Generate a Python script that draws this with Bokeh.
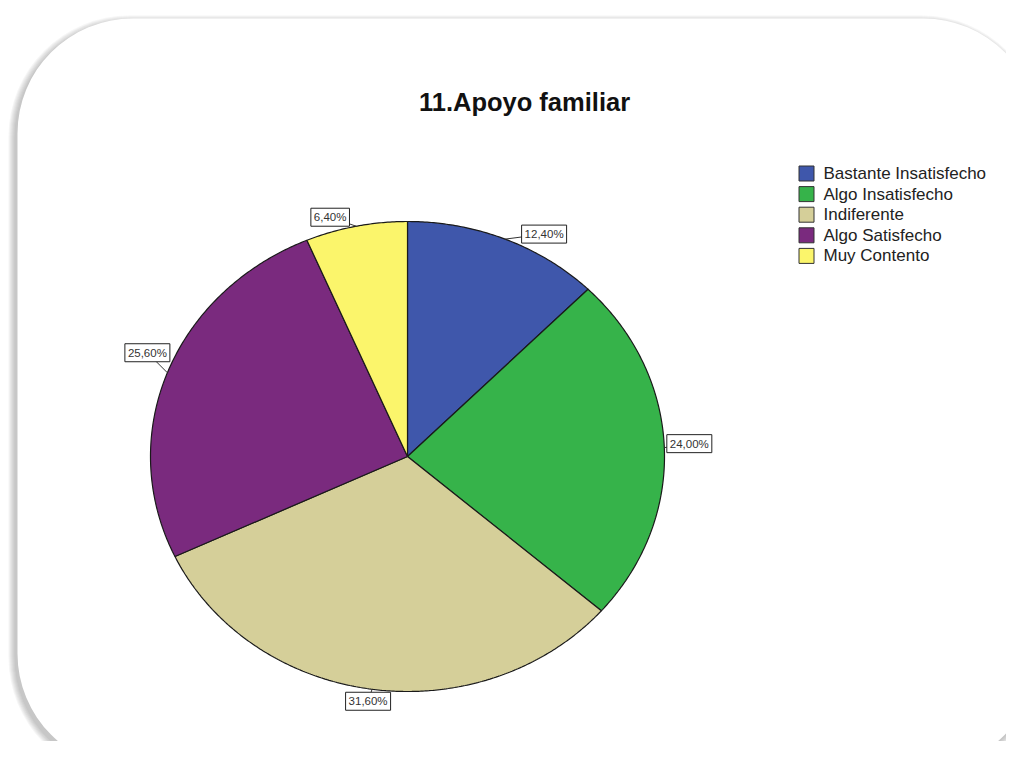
import numpy as np
from bokeh.plotting import figure
from bokeh.models import Range1d, BoxAnnotation
from bokeh.core.properties import value
from bokeh.embed import file_html
from bokeh.resources import INLINE

# ---- data ----
title = "11.Apoyo familiar"
categories = ["Bastante Insatisfecho", "Algo Insatisfecho", "Indiferente",
              "Algo Satisfecho", "Muy Contento"]
percents = [12.4, 24.0, 31.6, 25.6, 6.4]
colors = ["#3F57AB", "#36B34A", "#D5CF99", "#7A2A7E", "#FBF56B"]

# ---- layout (pixels) ----
W, H = 1006, 741
cx, cy = 407, 456
rx, ry = 257, 235
label_dx = [39, 25, -4, -20, -26]
label_dy = [-5, -4, 12, -20, -9]
leg_x, leg_y0, leg_step, leg_box = 806, 173, 20.6, 15
FONT = value("Liberation Sans")

p = figure(width=W, height=H, output_backend="svg", toolbar_location=None,
           x_range=Range1d(0, W), y_range=Range1d(H, 0), min_border=0)
p.axis.visible = False
p.grid.visible = False
p.outline_line_color = None
p.background_fill_color = "white"
p.border_fill_color = "white"

# frame with soft shadow (offset to the left / down)
for k in range(7):
    p.add_layout(BoxAnnotation(left=14 - k, right=1036 + k, top=21 - k, bottom=772 + k,
                               border_radius=115 + k, fill_color="#555555", fill_alpha=0.055,
                               line_color=None, level="underlay"))
p.add_layout(BoxAnnotation(left=17, right=1038, top=18, bottom=768, border_radius=115,
                           fill_color="white", fill_alpha=1.0, line_color=None,
                           level="underlay"))

# pie slices (clockwise from 12 o'clock)
fr = np.array(percents) / sum(percents)
edges = np.concatenate([[0.0], np.cumsum(fr)]) * 2 * np.pi
xs, ys = [], []
for a0, a1 in zip(edges[:-1], edges[1:]):
    t = np.linspace(a0, a1, max(int((a1 - a0) * 120), 6))
    xs.append([cx] + list(cx + rx * np.sin(t)))
    ys.append([cy] + list(cy - ry * np.cos(t)))
p.patches(xs, ys, fill_color=colors, line_color="#1a1a1a", line_width=1.2)

# value labels
mid = (edges[:-1] + edges[1:]) / 2
ax = cx + rx * np.sin(mid)
ay = cy - ry * np.cos(mid)
lbl = [f"{v:.2f}%".replace(".", ",") for v in percents]
p.segment(x0=ax, y0=ay, x1=ax + np.array(label_dx), y1=ay + np.array(label_dy),
          line_color="#333333", line_width=1)
p.text(x=ax, y=ay, text=lbl, x_offset=label_dx, y_offset=label_dy,
       text_align="center", text_baseline="middle", text_font=FONT,
       text_font_size="11.5px", text_color="#333333",
       background_fill_color="white", border_line_color="#222222",
       border_line_width=1, padding=3)

# title
p.text(x=[524], y=[101], text=[title], text_align="center", text_baseline="middle",
       text_font=FONT, text_font_style="bold", text_font_size="25.5px",
       text_color="#111111")

# legend
ly = [leg_y0 + i * leg_step for i in range(len(categories))]
p.rect(x=[leg_x] * len(categories), y=ly, width=leg_box, height=leg_box,
       width_units="screen", height_units="screen", fill_color=colors,
       line_color="#333333", line_width=1)
p.text(x=[leg_x + 17] * len(categories), y=ly, text=categories, text_align="left",
       text_baseline="middle", text_font=FONT, text_font_size="17px",
       text_color="#222222")

open("out.html", "w").write(file_html(p, INLINE))
